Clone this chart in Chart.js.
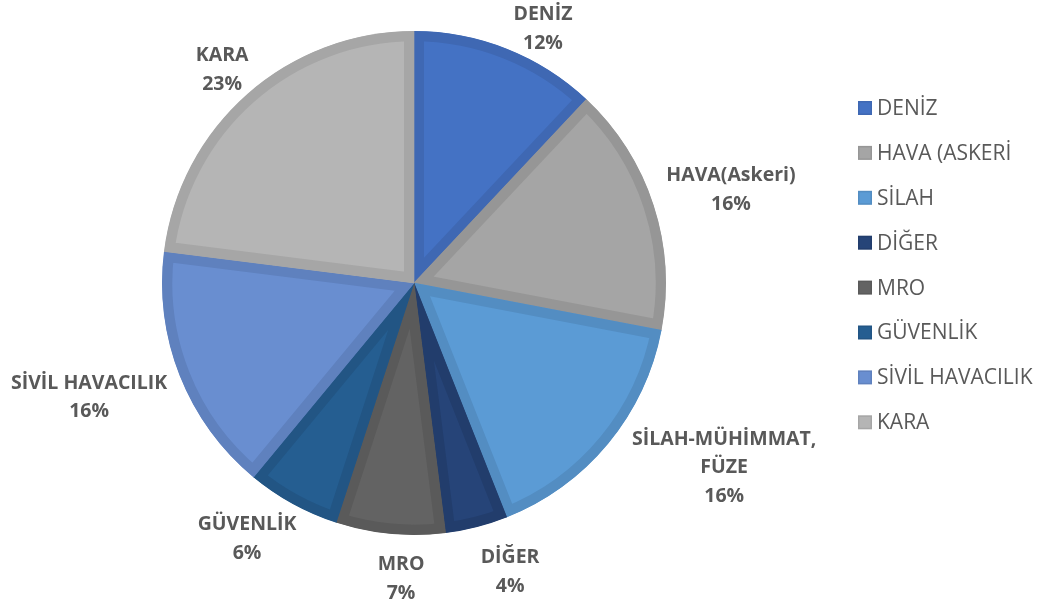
<!DOCTYPE html>
<html>
<head>
<meta charset="utf-8">
<script src="https://cdn.jsdelivr.net/npm/chart.js@4.4.0/dist/chart.umd.min.js"></script>
<style>
  html, body { margin: 0; padding: 0; background: #fff; }
  #kutu { width: 1044px; height: 611px; }
</style>
</head>
<body>
<div id="kutu"><canvas id="pasta"></canvas></div>
<script>
// VERILER
var kategoriler = ['DENİZ', 'HAVA (ASKERİ', 'SİLAH', 'DİĞER', 'MRO', 'GÜVENLİK', 'SİVİL HAVACILIK', 'KARA'];
var etiketAdlari = [['DENİZ'], ['HAVA(Askeri)'], ['SİLAH-MÜHİMMAT,', 'FÜZE'], ['DİĞER'], ['MRO'], ['GÜVENLİK'], ['SİVİL HAVACILIK'], ['KARA']];
var yuzdeler = [12, 16, 16, 4, 7, 6, 16, 23];

// RENKLER
var dolgu = ['#4472C4', '#A5A5A5', '#5B9BD5', '#264478', '#636363', '#255E91', '#698ED0', '#B5B5B5'];
var kenar = ['#3F68B3', '#969696', '#538DC2', '#223D6C', '#5A5A5A', '#225584', '#5F81BE', '#A6A6A6'];

// etiket yerleri: dilimin orta acisina gore aci farki (derece) ve yaricap carpani
var etiketYeri = [
  { da: 5.3, k: 1.131 },
  { da: 1.6, k: 1.311 },
  { da: -8.8, k: 1.433 },
  { da: -4.0, k: 1.208 },
  { da: -2.9, k: 1.176 },
  { da: 4.3, k: 1.213 },
  { da: 2.2, k: 1.367 },
  { da: -0.6, k: 1.138 }
];

var yaziRengi = '#595959';
var yaziTipi = '"Open Sans", sans-serif';

var etiketler = {
  id: 'etiketler',
  afterDatasetsDraw: function (chart) {
    var ctx = chart.ctx;
    var meta = chart.getDatasetMeta(0);
    ctx.save();
    ctx.fillStyle = yaziRengi;
    ctx.font = 'bold 19.5px ' + yaziTipi;
    ctx.textBaseline = 'middle';
    ctx.textAlign = 'center';
    meta.data.forEach(function (arc, i) {
      var p = arc.getProps(['x', 'y', 'startAngle', 'endAngle', 'outerRadius'], true);
      var yer = etiketYeri[i];
      var aci = (p.startAngle + p.endAngle) / 2 + yer.da * Math.PI / 180;
      var d = p.outerRadius * yer.k;
      var cx = p.x + Math.cos(aci) * d;
      var cy = p.y + Math.sin(aci) * d;
      var satirlar = etiketAdlari[i].concat([yuzdeler[i] + '%']);
      var aralik = 28.5;
      var y0 = cy - (satirlar.length - 1) * aralik / 2;
      satirlar.forEach(function (s, j) {
        ctx.fillText(s, cx, y0 + j * aralik);
      });
    });

    // lejant
    ctx.font = '21px ' + yaziTipi;
    ctx.textAlign = 'left';
    kategoriler.forEach(function (ad, i) {
      var y = 108 + i * 44.9;
      ctx.fillStyle = kenar[i];
      ctx.fillRect(858, y - 7, 14, 14);
      ctx.fillStyle = dolgu[i];
      ctx.fillRect(859.5, y - 5.5, 11, 11);
      ctx.fillStyle = yaziRengi;
      ctx.fillText(ad, 877, y + 1);
    });
    ctx.restore();
  }
};

var ctx = document.getElementById('pasta').getContext('2d');
var grafik = new Chart(ctx, {
  type: 'pie',
  data: {
    labels: kategoriler,
    datasets: [{
      data: yuzdeler,
      backgroundColor: dolgu,
      borderColor: kenar,
      borderWidth: 10,
      borderAlign: 'inner'
    }]
  },
  options: {
    responsive: true,
    maintainAspectRatio: false,
    animation: false,
    events: [],
    layout: { padding: { top: 31, bottom: 76, left: 162, right: 378 } },
    plugins: {
      legend: { display: false },
      tooltip: { enabled: false }
    }
  },
  plugins: [etiketler]
});
</script>
</body>
</html>
